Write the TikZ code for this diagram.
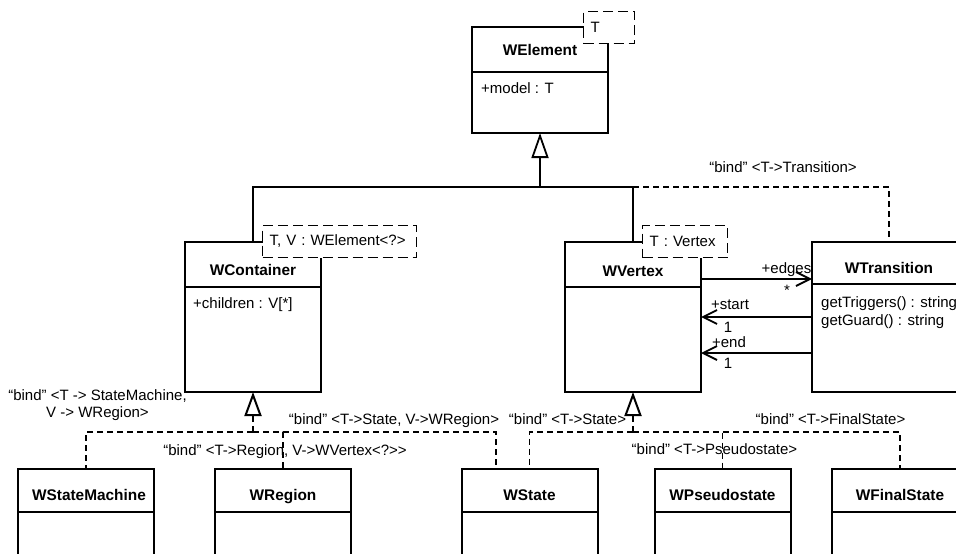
\documentclass[tikz,border=0pt]{standalone}
\usepackage{fontspec}
\setmainfont{Liberation Sans}
\usetikzlibrary{arrows.meta,positioning}
\tikzstyle{classbox}=[draw,line width=2pt,inner sep=0pt,outer sep=0pt,minimum width=136pt]
\tikzstyle{cname}=[anchor=base,inner sep=0pt,font=\fontsize{15.4pt}{17pt}\selectfont\bfseries]
\tikzstyle{member}=[anchor=base west,inner sep=0pt,font=\fontsize{15pt}{17pt}\selectfont]
\tikzstyle{txt}=[anchor=base,inner sep=0pt,font=\fontsize{15pt}{17pt}\selectfont]
\tikzstyle{tmpl}=[draw,line width=1.4pt,dash pattern=on 10pt off 5pt,fill=white,anchor=west,inner xsep=7pt,inner ysep=0pt,minimum height=32pt,align=left,font=\fontsize{15pt}{17pt}\selectfont]
\tikzstyle{link}=[line width=1.8pt]
\tikzstyle{gen}=[line width=1.8pt,-{Triangle[open,length=25pt,width=17pt]}]
\tikzstyle{bindline}=[line width=1.4pt,dash pattern=on 6pt off 4pt]
\tikzstyle{realize}=[bindline,-{Triangle[open,line width=2pt,length=24pt,width=17pt]}]
\tikzstyle{assoc}=[line width=1.8pt,-{Straight Barb[length=14pt,width=14pt]}]

\begin{document}
\begin{tikzpicture}[x=1pt,y=-1pt]
    \useasboundingbox (0,0) rectangle (956,554);
    \clip (0,0) rectangle (956,554);
    % classes
    \node[classbox,minimum height=106pt] (welement) at (540,80) {};
    \node[classbox,minimum height=150pt] (wcontainer) at (253,317) {};
    \node[classbox,minimum height=150pt] (wvertex) at (633,317) {};
    \node[classbox,minimum width=154pt,minimum height=150pt] (wtransition) at (889,317) {};
    \node[classbox,minimum height=110pt] (wstatemachine) at (86,524) {};
    \node[classbox,minimum height=110pt] (wregion) at (283,524) {};
    \node[classbox,minimum height=110pt] (wstate) at (529.5,524) {};
    \node[classbox,minimum height=110pt] (wpseudostate) at (722.5,524) {};
    \node[classbox,minimum height=110pt] (wfinalstate) at (900,524) {};

    \foreach \n/\d in {welement/45,wcontainer/45,wvertex/45,wtransition/42,wstatemachine/43,wregion/43,wstate/43,wpseudostate/43,wfinalstate/43}
    \draw[line width=2pt] ([yshift=-\d pt]\n.north west) -- ([yshift=-\d pt]\n.north east);

    \node[cname] (welement-name) at (540,55) {WElement};
    \node[cname] (wcontainer-name) at (253,275) {WContainer};
    \node[cname] (wvertex-name) at (633,276) {WVertex};
    \node[cname] (wtransition-name) at (889,273) {WTransition};
    \node[cname] (wstatemachine-name) at (89,500) {WStateMachine};
    \node[cname] (wregion-name) at (283,500) {WRegion};
    \node[cname] (wstate-name) at (529.5,500) {WState};
    \node[cname] (wpseudostate-name) at (722.5,500) {WPseudostate};
    \node[cname] (wfinalstate-name) at (900,500) {WFinalState};

    \node[member] (welement-a1) at (481,93) {+model : T};
    \node[member] (wcontainer-a1) at (193,308) {+children : V[*]};
    \node[member] (wtransition-o1) at (821,307) {getTriggers() : string};
    \node[member] (wtransition-o2) at (821,325) {getGuard() : string};

    % template parameters
    \node[tmpl,text width=37pt] (welement-t) at (583,27.5) {T};
    \node[tmpl,text width=140pt] (wcontainer-t) at (262,241.5) {T, V : WElement<?>};
    \node[tmpl,text width=71pt] (wvertex-t) at (642,241.5) {T : Vertex};

    % generalization
    \coordinate (gen1) at (540,187);
    \draw[link] (wcontainer.north) |- (gen1) -| (wvertex.north);
    \draw[gen] (gen1) -- (welement.south);

    \coordinate (bindtr) at (889,187);
    \draw[bindline] (wvertex.north |- bindtr) -- (bindtr) -- (wtransition.north);
    \node[txt] (bindtr-l) at (783,172) {“bind” <T->Transition>};

    % associations
    \draw[assoc] ([yshift=38pt]wvertex.east) -- ([yshift=38pt]wtransition.west);
    \draw[assoc] (wtransition.west) -- (wvertex.east);
    \draw[assoc] ([yshift=-36pt]wtransition.west) -- ([yshift=-36pt]wvertex.east);
    \node[txt] (edges-r) at (786.5,273) {+edges};
    \node[txt] (edges-m) at (787,295) {*};
    \node[txt] (start-r) at (730,309) {+start};
    \node[txt] (start-m) at (728,332) {1};
    \node[txt] (end-r) at (729,347) {+end};
    \node[txt] (end-m) at (728,368) {1};

    % bindings
    \coordinate (realc) at (253,432);
    \coordinate (realv) at (633,432);
    \draw[realize] (realc) -- (wcontainer.south);
    \draw[realize] (realv) -- (wvertex.south);
    \foreach \to in {wstatemachine.north,wregion.north}
    \draw[bindline] (realc) -| (\to);
    \draw[bindline] (realc) -| ([xshift=-33.5pt]wstate.north);
    \foreach \to in {wstate.north,wpseudostate.north,wfinalstate.north}
    \draw[bindline] (realv) -| (\to);

    \node[txt,align=center,anchor=center] (bindsm-l) at (97.5,405.5) {“bind” <T -> StateMachine,\\V -> WRegion>};
    \node[txt] (bindre-l) at (285,455) {“bind” <T->Region, V->WVertex<?>{}>};
    \node[txt] (bindst1-l) at (394,424) {“bind” <T->State, V->WRegion>};
    \node[txt] (bindst2-l) at (567.5,424) {“bind” <T->State>};
    \node[txt] (bindps-l) at (714.5,454) {“bind” <T->Pseudostate>};
    \node[txt] (bindfs-l) at (830.5,424) {“bind” <T->FinalState>};
\end{tikzpicture}
\end{document}
